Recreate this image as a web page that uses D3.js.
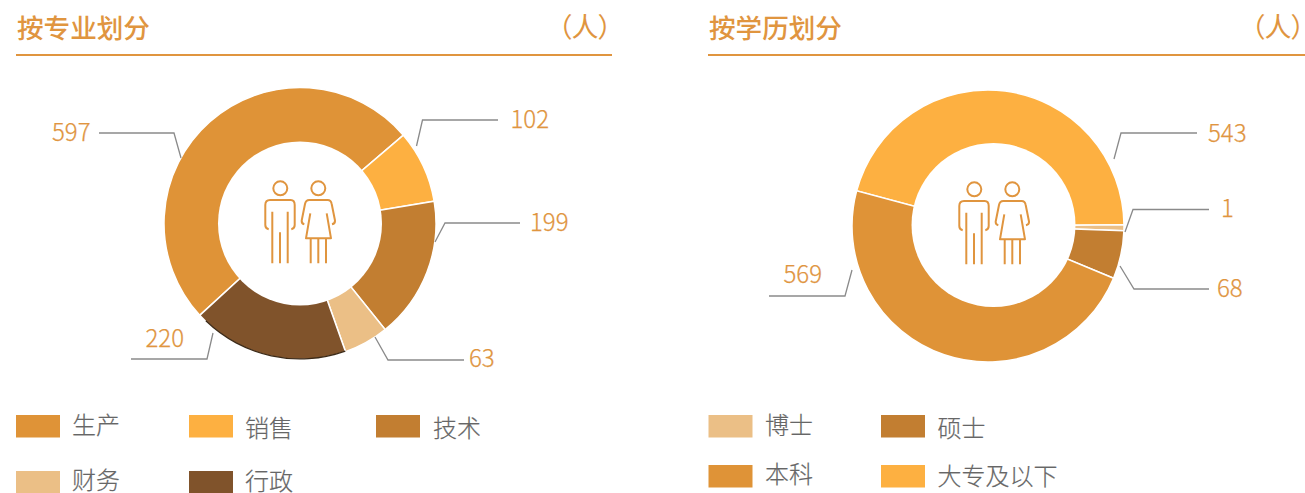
<!doctype html>
<html lang="zh-CN">
<head>
<meta charset="utf-8">
<title>员工构成</title>
<style>
  html, body { margin: 0; padding: 0; background: #fff; }
  svg { display: block; font-family: "Noto Sans CJK SC", "Noto Sans", sans-serif; }
  .unit { font-feature-settings: "palt"; }
</style>
</head>
<body>
<script src="https://cdn.jsdelivr.net/npm/d3@7"></script>
<script>
// data
const majorNames  = ["生产", "销售", "技术", "财务", "行政"];
const majorValues = [597, 102, 199, 63, 220];
const majorColors = ["#df9337", "#fdb041", "#c27e31", "#ebbf86", "#80532b"];

const eduNames  = ["大专及以下", "博士", "硕士", "本科"];
const eduValues = [543, 1, 68, 569];
const eduColors = ["#fdb041", "#ebbf86", "#c27e31", "#df9337"];

// layout
const orange = "#e0953f";
const rad = d => d * Math.PI / 180;

// [start, elbow, end] of the leader, then label x, label centre y, anchor
const majorLeaders = [
  {pts: [[181, 158], [174, 133], [99, 133]],   x: 90.5, y: 132, anchor: "end"},
  {pts: [[416.5, 146], [422.5, 120], [498, 120]], x: 510.5, y: 119, anchor: "start"},
  {pts: [[435, 242], [445, 223], [520, 223]],  x: 530, y: 222, anchor: "start"},
  {pts: [[375, 337], [388, 360], [464, 360]],  x: 469, y: 358, anchor: "start"},
  {pts: [[213, 333], [207, 359], [131, 359]],  x: 184, y: 338, anchor: "end"}
];
const eduLeaders = [
  {pts: [[1114, 159], [1121, 133], [1197, 133]],  x: 1208, y: 133, anchor: "start"},
  {pts: [[1125, 232], [1133, 209.5], [1209, 209.5]], x: 1221, y: 208, anchor: "start"},
  {pts: [[1120, 266], [1134, 289], [1209, 289]],  x: 1217, y: 288, anchor: "start"},
  {pts: [[852, 270], [845, 296], [769, 296]],     x: 822,  y: 274, anchor: "end"}
];

const majorLegend = [
  {i: 0, x: 16,  y: 415, tx: 72,  ty: 425},
  {i: 1, x: 189, y: 415, tx: 245, ty: 428},
  {i: 2, x: 376, y: 415, tx: 433, ty: 428},
  {i: 3, x: 16,  y: 471, tx: 72,  ty: 480},
  {i: 4, x: 189, y: 471, tx: 245, ty: 481.5}
];
const eduLegend = [
  {i: 1, x: 708.5, y: 415, tx: 765, ty: 425},
  {i: 2, x: 881, y: 415, tx: 937.5, ty: 428},
  {i: 3, x: 708.5, y: 465, tx: 765, ty: 474},
  {i: 0, x: 881, y: 465, tx: 937.5, ty: 476}
];

const svg = d3.select("body").append("svg")
    .attr("width", 1305)
    .attr("height", 493);

function header(x0, x1, unitEnd, title) {
  svg.append("text").attr("x", x0 + 1).attr("y", 38)
    .attr("fill", orange).attr("font-size", 26.6).attr("font-weight", 500)
    .text(title);
  svg.append("text").attr("class", "unit").attr("x", unitEnd).attr("y", 37).attr("text-anchor", "end")
    .attr("fill", orange).attr("font-size", 27).attr("font-weight", 400)
    .text("（人）");
  svg.append("line")
    .attr("x1", x0).attr("x2", x1).attr("y1", 55).attr("y2", 55)
    .attr("stroke", orange).attr("stroke-width", 2);
}

// opts: centre, hole centre (the second ring's hole sits off centre in the original)
function donut(opts) {
  const g = svg.append("g").attr("transform", `translate(${opts.cx},${opts.cy})`);
  const total = d3.sum(opts.values);
  // very small slices get a minimum visible width
  const pie = d3.pie()
      .sort(null)
      .value(d => Math.max(d, total * opts.minAngle / 360))
      .startAngle(rad(opts.start))
      .endAngle(rad(opts.start + 360));
  const arcs = pie(opts.values);
  const arc = d3.arc().innerRadius(0).outerRadius(opts.r);

  g.selectAll("path.slice")
    .data(arcs)
    .join("path")
    .attr("class", "slice")
    .attr("d", arc)
    .attr("fill", (d, i) => opts.colors[i])
    .attr("stroke", "#fff")
    .attr("stroke-width", 1.5);

  if (opts.darkEdge != null) {
    const d = arcs[opts.darkEdge];
    g.append("path")
      .attr("d", d3.arc().innerRadius(opts.r - 1.2).outerRadius(opts.r)
        .startAngle(d.startAngle).endAngle(d.endAngle - 0.06)())
      .attr("fill", "#3b2a18");
  }

  svg.append("circle")
    .attr("cx", opts.hx).attr("cy", opts.hy).attr("r", opts.hr)
    .attr("fill", "#fff");
}

function people(tx, ty) {
  const g = svg.append("g")
      .attr("transform", `translate(${tx},${ty})`)
      .attr("fill", "none")
      .attr("stroke", orange)
      .attr("stroke-width", 2)
      .attr("stroke-linejoin", "round");
  g.append("circle").attr("cx", 30.3).attr("cy", 18.3).attr("r", 7);
  g.append("circle").attr("cx", 68.3).attr("cy", 18.3).attr("r", 7);
  const shapes = [
    "M18.7,59.3Q15.3,58.5 15.3,55V35Q15.3,30 20,30H40.7Q44.7,30 44.7,35V55Q44.7,58.5 41.3,59.3",
    "M22.3,41.7V93.3M37.7,41.7V93.3M30,62.3V93.3",
    "M54.3,54.3Q51.4,53.5 51.7,50.5L55,34Q55.8,30 59.3,30H77.7Q81,30 81.7,34L85,50.5Q85.3,53.5 82,54.3",
    "M60.3,43.3L56,68.3H81L76.7,43.3",
    "M60.7,68.3V93.3M68.3,68.3V93.3M76,68.3V93.3"
  ];
  shapes.forEach(s => g.append("path").attr("d", s));
}

function leaders(list, values) {
  const line = d3.line();
  list.forEach((l, i) => {
    svg.append("path").attr("d", line(l.pts))
      .attr("fill", "none").attr("stroke", "#8a8a8a").attr("stroke-width", 1.3);
    svg.append("text")
      .attr("x", l.x).attr("y", l.y).attr("dy", "0.36em")
      .attr("text-anchor", l.anchor)
      .attr("fill", orange).attr("stroke", orange).attr("stroke-width", 0.25)
      .attr("font-size", 24).attr("font-weight", 300)
      .text(values[i]);
  });
}

function legend(list, names, colors) {
  list.forEach(l => {
    svg.append("rect")
      .attr("x", l.x).attr("y", l.y).attr("width", 44).attr("height", 22.5)
      .attr("fill", colors[l.i]);
    svg.append("text")
      .attr("x", l.tx).attr("y", l.ty).attr("dy", "0.36em")
      .attr("fill", "#666").attr("stroke", "#666").attr("stroke-width", 0.2)
      .attr("font-size", 24).attr("font-weight", 300)
      .text(names[l.i]);
  });
}

header(16, 612, 612, "按专业划分");
donut({cx: 300, cy: 223.5, r: 136, hx: 300, hy: 223.5, hr: 82, start: -132.5, minAngle: 0,
       values: majorValues, colors: majorColors, darkEdge: 4});
people(250, 170);
leaders(majorLeaders, majorValues);
legend(majorLegend, majorNames, majorColors);

header(708, 1305, 1305, "按学历划分");
donut({cx: 988, cy: 226, r: 136, hx: 993.5, hy: 225, hr: 82, start: -75, minAngle: 2.5,
       values: eduValues, colors: eduColors});
people(944, 171);
leaders(eduLeaders, eduValues);
legend(eduLegend, eduNames, eduColors);
</script>
</body>
</html>
